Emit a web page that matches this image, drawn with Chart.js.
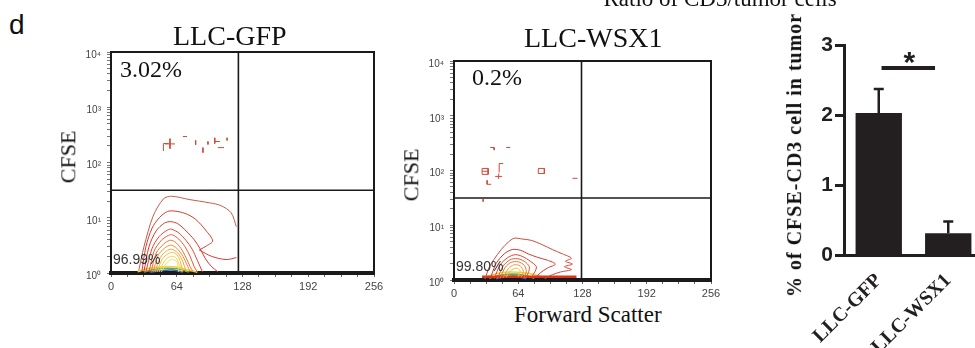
<!DOCTYPE html>
<html>
<head>
<meta charset="utf-8">
<title>CFSE flow cytometry and CD3 ratio</title>
<script src="https://cdn.jsdelivr.net/npm/chart.js@4.4.1/dist/chart.umd.min.js"></script>
<style>
  html, body { margin:0; padding:0; background:#fff; }
  body { position:relative; width:975px; height:348px; overflow:hidden; }
  canvas { position:absolute; }
  .txt { position:absolute; white-space:nowrap; line-height:1; color:#111; }
</style>
</head>
<body>
<canvas id="fcGfp" width="328" height="255" style="left:60px;top:40px"></canvas>
<canvas id="fcWsx" width="322" height="253" style="left:403px;top:49px"></canvas>
<canvas id="bar" width="193" height="348" style="left:790px;top:0px"></canvas>
<script>
// ---------------- DATA ----------------
const panelTitles = ['LLC-GFP', 'LLC-WSX1'];
const upperLeftPct = ['3.02%', '0.2%'];
const lowerLeftPct = ['96.99%', '99.80%'];
const fcXTitle = 'Forward Scatter';
const fcYTitle = 'CFSE';
const fcXLabelTicks = [0, 64, 128, 192, 256];
const fcXMinorTicks = [0, 16, 32, 48, 64, 80, 96, 112, 128, 144, 160, 176, 192, 208, 224, 240, 256];
const fcYDecades = [1, 10, 100, 1000, 10000];
const fcYTickLabels = ['10\u2070', '10\u00b9', '10\u00b2', '10\u00b3', '10\u2074'];
const gateX = [124, 127];      // quadrant gate (forward scatter)
const gateY = [31.5, 31.5];    // quadrant gate (CFSE)

// contour rings [forward scatter, CFSE], outermost first
const gfpRings = [
  [[27,1.1],[32,2.95],[41,10.7],[51,21.9],[59,24.5],[76,21.4],[96,18.6],[107,16.6],[117,12.3],[122,6.9]],
  [[30,1.05],[34,3],[40,6.5],[47,10],[55,13],[62,13.2],[72,12],[82,9.5],[92,6],[99,3.8],[93,3.1],[86,2.6]],
  [[86,2.6],[98,2.0],[112,1.75],[122,1.9]],
  [[32,1.05],[37,3],[44,5.8],[52,8],[58,8.5],[65,7.8],[73,5.8],[81,4],[87,2.7],[92,1.8],[98,1.3],[104,1.05]],
  [[34,1.05],[40,2.8],[47,4.6],[55,6],[59,6.2],[66,5.3],[73,3.9],[79,2.7],[84,1.7],[89,1.05]],
  [[37,1.05],[42,2.5],[49,3.9],[56,4.8],[60,4.9],[66,4.1],[72,3],[77,2],[81,1.3],[84,1.05]],
  [[39,1.05],[44,2.3],[51,3.3],[57,3.9],[62,3.7],[68,2.8],[73,1.9],[77,1.3],[80,1.05]],
  [[41,1.05],[46,2.1],[52,2.8],[58,3.2],[64,2.8],[70,2],[74,1.4],[77,1.05]],
  [[43,1.05],[48,1.9],[54,2.5],[59,2.7],[65,2.3],[70,1.6],[73,1.05]],
  [[45,1.05],[50,1.8],[56,2.25],[61,2.35],[66,1.9],[70,1.05]],
  [[47,1.05],[52,1.65],[58,2.0],[63,1.9],[67,1.35],[69,1.05]],
  [[49,1.05],[54,1.5],[59,1.75],[64,1.6],[66,1.05]]
];
const gfpBand = [
  [[26,1.05],[36,1.2],[50,1.3],[64,1.28],[76,1.12],[84,1.03]],
  [[32,1.04],[42,1.16],[55,1.22],[66,1.18],[76,1.04]],
  [[38,1.03],[48,1.1],[60,1.13],[70,1.03]]
];
const gfpSpecks = [
  [[52.5,217],[62.3,217]], [[57.4,270],[57.4,178]], [[51,161],[51,220],[56,222]],
  [[70,295],[74,295]], [[82.4,251],[82.4,210]], [[89.5,186],[89.5,151]],
  [[94.4,240],[94.4,212]], [[101,280],[101,220]], [[101,240],[106,240]],
  [[104,186],[110,186]], [[113,280],[113,250]]
];

const wsxRings = [
  [[31,1.05],[35,1.7],[40,2.4],[47,3.6],[54,4.9],[60,5.8],[68,5.6],[77,5.3],[88,4.4],[98,3.6],[108,3.0],[117,2.5],[111,2.2],[118,1.95],[110,1.75],[117,1.55],[106,1.4],[98,1.25],[92,1.12]],
  [[36,1.05],[42,2.0],[50,3.0],[58,3.6],[66,3.5],[74,3.0],[83,2.6],[93,2.3],[101,1.95],[93,1.65],[86,1.35],[81,1.1]],
  [[40,1.05],[46,1.9],[54,2.6],[61,2.9],[68,2.7],[76,2.2],[82,1.75],[80,1.35],[76,1.08]],
  [[43,1.05],[49,1.8],[56,2.35],[63,2.45],[70,2.2],[75,1.75],[74,1.35],[71,1.08]],
  [[46,1.08],[51,1.7],[57,2.1],[64,2.15],[70,1.85],[72,1.45],[70,1.1]],
  [[49,1.1],[54,1.6],[60,1.9],[66,1.8],[69,1.45],[67,1.12]],
  [[52,1.12],[56,1.45],[62,1.65],[66,1.45],[64,1.15]]
];
const wsxBaseline = [[28,1.15],[122,1.15]];
const wsxBand = [
  [[30,1.1],[42,1.3],[56,1.4],[70,1.35],[84,1.2],[92,1.1]],
  [[35,1.08],[46,1.22],[58,1.28],[70,1.22],[80,1.08]],
  [[42,1.06],[52,1.15],[62,1.17],[72,1.06]]
];
const wsxSpecks = [
  [[36,263],[40,263],[40,236]], [[52,263],[56,263]], [[45,92],[45,134],[49,134]],
  [[28,85],[28,109],[34,109],[34,85],[28,85]], [[28,97],[34,97]],
  [[41,78],[48,78]], [[44.5,70],[44.5,88]], [[33,66],[33,56],[37,56]],
  [[84,88],[84,109],[90,109],[90,88],[84,88]], [[118,72],[123,72]], [[29,30],[29,27]]
];

// bar chart
const barTitle = 'Ratio of CD3/tumor cells';
const barYTitle = '% of CFSE-CD3 cell in tumor';
const barCategories = ['LLC-GFP', 'LLC-WSX1'];
const barMeans = [2.03, 0.31];
const barErrors = [0.34, 0.17];
const barYTicks = [0, 1, 2, 3];
const sigLevel = 2.67;
const sigLabel = '*';

// ---------------- STYLES ----------------
const gfpRingColors = ['#c85a4a','#d63a2d','#d63a2d','#dc3526','#e2432a','#e8552b','#ee712e','#f18c31','#f4a535','#f6bc3a','#f7d044','#f5dd5c'];
const wsxRingColors = ['#cc4a3c','#d8372b','#df4029','#e6562b','#ed742e','#f29833','#f5ba3a'];
const bandColors = ['#f2d23a','#58ad5a','#3f5fae'];
const speckColor = '#cf4a3a';

// ---------------- HELPERS ----------------
function pts(arr) { return arr.map(p => ({x: p[0], y: p[1]})); }
function lineDs(arr, color, width, tension) {
  return { data: pts(arr), borderColor: color, borderWidth: width, pointRadius: 0,
           fill: false, tension: tension, spanGaps: false };
}
function speckDs(list) {
  const data = [];
  list.forEach(seg => { seg.forEach(p => data.push({x: p[0], y: p[1]})); data.push({x: seg[0][0], y: null}); });
  return { data, borderColor: speckColor, borderWidth: 1, pointRadius: 0, fill: false, tension: 0, spanGaps: false };
}
const framePlugin = {
  id: 'frame',
  afterDraw(chart) {
    const a = chart.chartArea, ctx = chart.ctx;
    ctx.save(); ctx.strokeStyle = '#1a1a1a'; ctx.lineWidth = 2;
    ctx.beginPath(); ctx.moveTo(a.left, a.top); ctx.lineTo(a.right, a.top); ctx.lineTo(a.right, a.bottom); ctx.stroke();
    ctx.restore();
  }
};
function logMinor() {
  const t = [];
  for (let d = 0; d < fcYDecades.length - 1; d++) for (let k = 1; k < 10; k++) t.push(fcYDecades[d] * k);
  t.push(fcYDecades[fcYDecades.length - 1]);
  return t;
}

function flowChart(id, rings, ringColors, band, extra, specks, gx, gy) {
  const ds = [];
  rings.forEach((r, i) => ds.push(lineDs(r, ringColors[i], 1, 0.3)));
  extra.forEach(e => ds.push(e));
  band.forEach((b, i) => ds.push(lineDs(b, bandColors[i], 1.6, 0.4)));
  ds.push(speckDs(specks));
  ds.push(lineDs([[gx, 1], [gx, 10000]], '#1a1a1a', 1.6, 0));
  ds.push(lineDs([[0, gy], [256, gy]], '#1a1a1a', 1.6, 0));
  return new Chart(document.getElementById(id), {
    type: 'line',
    data: { datasets: ds },
    options: {
      responsive: false, animation: false, events: [],
      layout: { padding: { top: 11, right: 14, left: 0, bottom: 0 } },
      plugins: { legend: { display: false }, tooltip: { enabled: false } },
      scales: {
        x: {
          type: 'linear', min: 0, max: 256,
          afterBuildTicks: s => { s.ticks = fcXMinorTicks.map(v => ({ value: v })); },
          afterFit: s => { s.height = 22; },
          ticks: { autoSkip: false, maxRotation: 0, padding: 3, color: '#444',
                   font: { family: 'Liberation Sans', size: 11 },
                   callback: v => fcXLabelTicks.includes(v) ? String(v) : '' },
          grid: { drawOnChartArea: false, tickLength: 4, color: '#666' },
          border: { display: true, width: 4, color: '#1a1a1a' }
        },
        y: {
          type: 'logarithmic', min: 1, max: 10000,
          afterBuildTicks: s => { s.ticks = logMinor().map(v => ({ value: v })); },
          afterFit: s => { s.width = 51; },
          ticks: { autoSkip: false, padding: 6, labelOffset: 3, color: '#444',
                   font: { family: 'Liberation Sans', size: 10 },
                   callback: v => { const i = fcYDecades.indexOf(v); return i >= 0 ? fcYTickLabels[i] : ''; } },
          grid: { drawOnChartArea: false, tickLength: 4, color: '#777' },
          border: { display: true, width: 2, color: '#1a1a1a' }
        }
      }
    },
    plugins: [framePlugin]
  });
}

flowChart('fcGfp', gfpRings, gfpRingColors, gfpBand, [], gfpSpecks, gateX[0], gateY[0]);
flowChart('fcWsx', wsxRings, wsxRingColors, wsxBand, [lineDs(wsxBaseline, '#e0301e', 2.5, 0)], wsxSpecks, gateX[1], gateY[1]);

// ---------------- BAR CHART ----------------
const barInk = '#231f20';
const errPlugin = {
  id: 'errsig',
  afterDatasetsDraw(chart) {
    const { ctx, scales: { x, y } } = chart;
    ctx.save();
    ctx.strokeStyle = barInk; ctx.lineWidth = 2.5;
    barMeans.forEach((m, i) => {
      const cx = x.getPixelForValue(i);
      const top = y.getPixelForValue(m + barErrors[i]);
      const base = y.getPixelForValue(m);
      ctx.beginPath();
      ctx.moveTo(cx, base); ctx.lineTo(cx, top);
      ctx.moveTo(cx - 5, top); ctx.lineTo(cx + 5, top);
      ctx.stroke();
    });
    const sy = y.getPixelForValue(sigLevel);
    const x1 = x.getPixelForValue(0.04), x2 = x.getPixelForValue(0.81);
    ctx.lineWidth = 4;
    ctx.beginPath(); ctx.moveTo(x1, sy); ctx.lineTo(x2, sy); ctx.stroke();
    ctx.fillStyle = barInk;
    ctx.font = 'bold 30px "Liberation Sans"';
    ctx.textAlign = 'center'; ctx.textBaseline = 'alphabetic';
    ctx.fillText(sigLabel, (x1 + x2) / 2 + 1, sy + 4);
    ctx.restore();
  }
};
new Chart(document.getElementById('bar'), {
  type: 'bar',
  data: { labels: barCategories,
          datasets: [{ data: barMeans, backgroundColor: barInk, borderWidth: 0,
                       barPercentage: 0.667, categoryPercentage: 1 }] },
  options: {
    responsive: false, animation: false, events: [],
    layout: { padding: { top: 45, right: 0, left: 0, bottom: 0 } },
    plugins: { legend: { display: false }, tooltip: { enabled: false } },
    scales: {
      x: {
        afterFit: s => { s.height = 93; },
        ticks: { minRotation: 45, maxRotation: 45, padding: 6, color: barInk,
                 font: { family: 'Liberation Serif', size: 20, weight: 'bold' } },
        grid: { display: false },
        border: { display: true, width: 3, color: barInk }
      },
      y: {
        min: 0, max: 3,
        afterBuildTicks: s => { s.ticks = barYTicks.map(v => ({ value: v })); },
        afterFit: s => { s.width = 54; },
        ticks: { padding: 2, color: barInk, font: { family: 'Liberation Sans', size: 21, weight: 'bold' } },
        grid: { drawOnChartArea: false, tickLength: 9, tickWidth: 3, color: barInk },
        border: { display: true, width: 3, color: barInk }
      }
    }
  },
  plugins: [errPlugin]
});

// ---------------- TEXT ----------------
function addText(txt, o) {
  const d = document.createElement('div');
  d.className = 'txt';
  d.textContent = txt;
  d.style.fontFamily = o.serif ? "'Liberation Serif', 'Times New Roman', serif" : "'Liberation Sans', Arial, sans-serif";
  d.style.fontSize = o.size + 'px';
  if (o.bold) d.style.fontWeight = 'bold';
  if (o.color) d.style.color = o.color;
  if (o.ls) d.style.letterSpacing = o.ls + 'px';
  document.body.appendChild(d);
  const w = d.offsetWidth, h = d.offsetHeight;
  if (o.rotate) {
    d.style.left = (o.x - w / 2) + 'px';
    d.style.top = (o.y - h / 2) + 'px';
    d.style.transform = 'rotate(-90deg)';
  } else {
    const asc = o.serif ? 0.8375 : 0.8465;
    d.style.top = (o.y - asc * o.size) + 'px';
    d.style.left = (o.align === 'center' ? o.x - w / 2 : o.x) + 'px';
  }
}
addText('d', { x: 9, y: 35, size: 28 });
addText(barTitle, { x: 720, y: 6, size: 23, serif: true, align: 'center' });
addText(panelTitles[0], { x: 230, y: 45, size: 28, serif: true, align: 'center' });
addText(panelTitles[1], { x: 593, y: 47, size: 28, serif: true, align: 'center' });
addText(upperLeftPct[0], { x: 120, y: 77, size: 24, serif: true });
addText(upperLeftPct[1], { x: 472, y: 85, size: 24, serif: true });
addText(lowerLeftPct[0], { x: 113, y: 264, size: 14, color: '#333' });
addText(lowerLeftPct[1], { x: 456, y: 271, size: 14, color: '#333' });
addText(fcYTitle, { x: 68.5, y: 157, size: 22, serif: true, rotate: true });
addText(fcYTitle, { x: 411.5, y: 175, size: 22, serif: true, rotate: true });
addText(fcXTitle, { x: 588, y: 322, size: 23, serif: true, align: 'center' });
addText(barYTitle, { x: 794, y: 155, size: 20, serif: true, bold: true, ls: 1, rotate: true });
</script>
</body>
</html>
